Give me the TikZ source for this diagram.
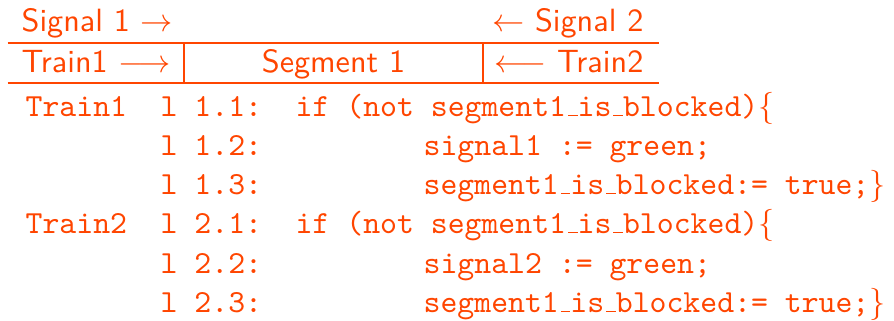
\documentclass[tikz,border=0pt]{standalone}
\usepackage{amsmath}
\usepackage{amssymb}
\usepackage{tikz}
\usepackage{color}
\usetikzlibrary{calc,positioning}
\definecolor{alertorange}{RGB}{255,69,0}
% narrow underscore as in the old text encoding
\newcommand{\us}{\kern.06em\vbox{\hrule width.3em height.4pt}}

\begin{document}
\begin{tikzpicture}[x=0.3106pt,y=-0.3106pt, alertorange,
    head/.style={inner sep=0pt,font=\sffamily},
    code/.style={inner sep=0pt,anchor=base west,font=\ttfamily},
    rule/.style={line width=0.5pt}]
      \useasboundingbox (0,0) rectangle (894,320);
      % signals above the track
      \node [head,anchor=base west] (sig1) at (21,31) {Signal 1 $\rightarrow$};
      \node [head,anchor=base east] (sig2) at (644,31) {$\leftarrow$ Signal 2};
      % the track
      \coordinate (tl) at (7.5,43);
      \coordinate (tr) at (659,43);
      \coordinate (bl) at (7.5,83);
      \coordinate (br) at (659,83);
      \coordinate (v1t) at (184,43);
      \coordinate (v1b) at (184,83);
      \coordinate (v2t) at (483,43);
      \coordinate (v2b) at (483,83);
      \draw [rule] (tl) -- (tr);
      \draw [rule] (bl) -- (br);
      \draw [rule] (v1t) -- (v1b);
      \draw [rule] (v2t) -- (v2b);
      \node [head,anchor=base west] (tr1) at (21,72) {Train1 $\longrightarrow$};
      \node [head,anchor=base] (seg) at (333.5,72) {Segment 1};
      \node [head,anchor=base east] (tr2) at (644,72) {$\longleftarrow$ Train2};
      % program of train 1
      \node [code] (p1) at (25,116) {Train1};
      \node [code] (l11) at (160,116) {l 1.1:};
      \node [code] (c11) at (295,116) {if (not segment1\us is\us blocked)$\{$};
      \node [code] (l12) at (160,155) {l 1.2:};
      \node [code] (c12) at (423,155) {signal1 := green;};
      \node [code] (l13) at (160,194) {l 1.3:};
      \node [code] (c13) at (423,194) {segment1\us is\us blocked:= true;$\}$};
      % program of train 2
      \node [code] (p2) at (25,233) {Train2};
      \node [code] (l21) at (160,233) {l 2.1:};
      \node [code] (c21) at (295,233) {if (not segment1\us is\us blocked)$\{$};
      \node [code] (l22) at (160,273) {l 2.2:};
      \node [code] (c22) at (423,273) {signal2 := green;};
      \node [code] (l23) at (160,312) {l 2.3:};
      \node [code] (c23) at (423,312) {segment1\us is\us blocked:= true;$\}$};
\end{tikzpicture}
\end{document}
